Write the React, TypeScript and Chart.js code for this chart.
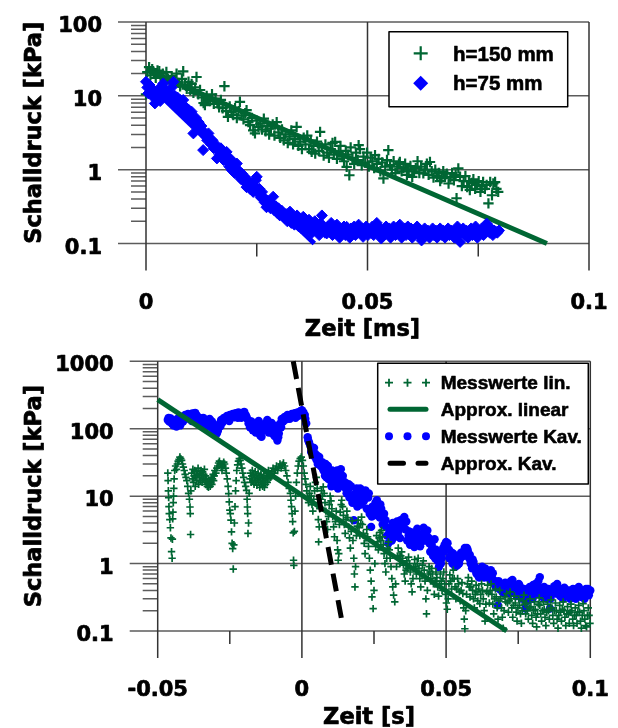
import React, { useEffect, useRef } from 'react';
import { Chart, registerables } from 'chart.js';
Chart.register(...registerables);

const GREEN = '#006633';
const BLUE = '#0000ff';

// ---------- top chart ----------
const topXTicks = [0, 0.05, 0.1];
const topXLabels = ['0', '0.05', '0.1'];
const topXMinor = [0.025, 0.075];
const topYTicks = [0.1, 1, 10, 100];
const topYLabels = ['0.1', '1', '10', '100'];
const topXTitle = 'Zeit [ms]';
const topYTitle = 'Schalldruck [kPa]';
const topLegend = ['h=150 mm', 'h=75 mm'];

const h150: [number, number][] = [
[0.0000,10.5],[0.0003,21],[0.0007,24.5],[0.0010,19],[0.0014,23],[0.0018,20.5],[0.0022,17.5],[0.0026,22],[0.0030,21.5],[0.0034,18],[0.0038,20],[0.0042,16.5],[0.0046,21],[0.0050,17],[0.0054,15.5],[0.0058,18.5],[0.0062,14.5],[0.0066,16],[0.0069,20],[0.0073,15],[0.0077,13.5],[0.0081,17],[0.0084,21.5],[0.0088,14],[0.0092,12.5],[0.0096,15.5],[0.0100,12],[0.0103,14.5],[0.0107,11],[0.0111,13],[0.0114,18],[0.0118,10.5],[0.0122,12],[0.0126,9.5],[0.0130,8],[0.0133,7.5],[0.0137,10],[0.0141,9],[0.0145,8.5],[0.0149,10.5],[0.0153,7.8],[0.0157,9.2],[0.0161,8],[0.0165,7],[0.0169,8.8],[0.0173,6.8],[0.0177,13.5],[0.0181,6.2],[0.0185,5.2],[0.0189,7.2],[0.0193,6],[0.0197,5.5],[0.0201,6.8],[0.0205,5],[0.0209,6.2],[0.0212,8.3],[0.0216,5.4],[0.0220,4.8],[0.0224,5.8],[0.0227,6.4],[0.0231,4.4],[0.0235,4],[0.0239,5],[0.0242,3.4],[0.0246,3.1],[0.0250,4.6],[0.0254,3.8],[0.0258,4.2],[0.0262,3.5],[0.0266,4.9],[0.0270,3.3],[0.0274,3.9],[0.0278,3],[0.0282,3.6],[0.0286,4.1],[0.0290,2.9],[0.0295,4.4],[0.0299,3.2],[0.0303,2.7],[0.0307,3.5],[0.0311,2.5],[0.0315,3],[0.0320,2.3],[0.0324,2.8],[0.0328,3.4],[0.0332,2.2],[0.0336,2.6],[0.0340,3.8],[0.0344,2.1],[0.0348,2.4],[0.0352,1.9],[0.0356,2.7],[0.0360,2.2],[0.0364,2.9],[0.0368,1.9],[0.0372,2.5],[0.0374,1.74],[0.0378,2.1],[0.0382,1.65],[0.0386,2.4],[0.0390,1.8],[0.0393,3.25],[0.0397,2],[0.0401,1.55],[0.0405,2.2],[0.0409,1.7],[0.0413,1.45],[0.0417,1.9],[0.0421,2.3],[0.0424,1.6],[0.0427,2.38],[0.0431,1.4],[0.0435,1.75],[0.0439,2.1],[0.0443,1.5],[0.0447,1.3],[0.0451,1.8],[0.0453,1.09],[0.0456,1.6],[0.0459,0.84],[0.0462,2],[0.0466,1.45],[0.0470,1.2],[0.0474,1.7],[0.0478,1.35],[0.0480,2.15],[0.0483,1.9],[0.0487,1.15],[0.0491,1.5],[0.0495,1.25],[0.0499,1.7],[0.0503,1.1],[0.0507,1.45],[0.0511,1.3],[0.0515,1.05],[0.0517,1.57],[0.0521,1.2],[0.0525,1.4],[0.0529,0.95],[0.0533,1.25],[0.0536,0.76],[0.0540,1.1],[0.0544,1.35],[0.0547,1.84],[0.0551,1.15],[0.0555,1.0],[0.0559,1.3],[0.0563,0.9],[0.0567,1.1],[0.0571,1.2],[0.0573,1.27],[0.0577,0.95],[0.0581,1.05],[0.0585,1.2],[0.0589,0.85],[0.0593,1.0],[0.0597,1.12],[0.0601,0.8],[0.0605,0.95],[0.0609,1.05],[0.0613,1.3],[0.0617,0.9],[0.0621,1.1],[0.0626,0.89],[0.0630,1.0],[0.0634,1.2],[0.0638,0.85],[0.0641,1.27],[0.0645,0.95],[0.0649,0.78],[0.0653,1.0],[0.0657,0.82],[0.0661,0.9],[0.0664,0.7],[0.0667,0.76],[0.0671,0.95],[0.0675,0.8],[0.0679,0.88],[0.0683,0.65],[0.0687,0.78],[0.0691,0.9],[0.0695,0.72],[0.0699,0.85],[0.0701,0.41],[0.0705,1.04],[0.0709,0.8],[0.0713,0.6],[0.0717,0.7],[0.0721,0.82],[0.0725,0.58],[0.0729,0.7],[0.0731,0.53],[0.0735,0.66],[0.0739,0.74],[0.0743,0.55],[0.0747,0.62],[0.0751,0.7],[0.0755,0.5],[0.0758,0.6],[0.0761,0.68],[0.0765,0.55],[0.0769,0.62],[0.0773,0.35],[0.0777,0.68],[0.0781,0.45],[0.0784,0.65],[0.0788,0.68],[0.0791,0.55],[0.0795,0.5]
];

const h75: [number, number][] = [
[0.0000,15.5],[0.0003,13],[0.0005,10.8],[0.0008,14],[0.0011,11.5],[0.0014,12.5],[0.0017,9.5],[0.0020,7.9],[0.0023,11],[0.0026,9],[0.0029,12],[0.0032,8.5],[0.0035,13.5],[0.0039,14.7],[0.0042,10.5],[0.0045,12],[0.0048,9.8],[0.0051,11],[0.0054,8.6],[0.0058,13],[0.0062,15.5],[0.0065,10],[0.0068,8.2],[0.0071,9.5],[0.0074,7.5],[0.0077,8.8],[0.0081,6.8],[0.0084,8.8],[0.0087,6.2],[0.0090,7],[0.0093,5.6],[0.0096,6.5],[0.0100,5.2],[0.0103,6.1],[0.0107,3.1],[0.0110,4.6],[0.0113,5],[0.0116,4],[0.0119,4.4],[0.0122,3.5],[0.0125,3.9],[0.0129,1.84],[0.0132,3.2],[0.0135,2.8],[0.0138,2.5],[0.0141,3.1],[0.0144,2.6],[0.0147,2.2],[0.0150,2.5],[0.0153,1.95],[0.0157,2.2],[0.0160,1.42],[0.0163,1.8],[0.0166,1.6],[0.0169,1.95],[0.0172,1.5],[0.0175,1.35],[0.0178,1.6],[0.0182,1.74],[0.0185,1.25],[0.0188,1.1],[0.0191,1.4],[0.0194,0.98],[0.0197,1.15],[0.0200,0.9],[0.0203,1.05],[0.0205,1.21],[0.0208,0.85],[0.0211,0.95],[0.0214,0.75],[0.0217,0.88],[0.0220,0.7],[0.0223,0.8],[0.0227,0.58],[0.0230,0.72],[0.0233,0.62],[0.0236,0.54],[0.0239,0.66],[0.0242,0.5],[0.0245,0.6],[0.0248,0.72],[0.0250,0.8],[0.0253,0.48],[0.0256,0.55],[0.0259,0.42],[0.0262,0.5],[0.0265,0.4],[0.0268,0.36],[0.0272,0.31],[0.0275,0.38],[0.0278,0.33],[0.0281,0.3],[0.0284,0.35],[0.0287,0.43],[0.0290,0.28],[0.0293,0.32],[0.0296,0.26],[0.0299,0.3],[0.0302,0.24],[0.0306,0.28],[0.0310,0.255],[0.0313,0.22],[0.0316,0.25],[0.0319,0.2],[0.0322,0.23],[0.0325,0.27],[0.0328,0.19],[0.0331,0.22],[0.0335,0.18],[0.0338,0.21],[0.0341,0.24],[0.0345,0.17],[0.0348,0.2],[0.0351,0.16],[0.0355,0.23],[0.0358,0.19],[0.0361,0.15],[0.0365,0.18],[0.0368,0.21],[0.0372,0.16],[0.0375,0.14],[0.0378,0.18],[0.0381,0.2],[0.0385,0.15],[0.0388,0.17],[0.0391,0.13],[0.0394,0.19],[0.0397,0.24],[0.0401,0.16],[0.0404,0.14],[0.0408,0.137],[0.0411,0.17],[0.0414,0.15],[0.0418,0.19],[0.0421,0.13],[0.0424,0.16],[0.0427,0.14],[0.0431,0.18],[0.0434,0.15],[0.0437,0.12],[0.0441,0.16],[0.0444,0.14],[0.0447,0.17],[0.0450,0.13],[0.0453,0.168],[0.0457,0.15],[0.0460,0.12],[0.0463,0.16],[0.0467,0.14],[0.0470,0.17],[0.0473,0.13],[0.0477,0.15],[0.0480,0.18],[0.0484,0.14],[0.0487,0.16],[0.0490,0.123],[0.0494,0.15],[0.0497,0.17],[0.0501,0.13],[0.0504,0.155],[0.0507,0.14],[0.0511,0.17],[0.0514,0.13],[0.0518,0.15],[0.0521,0.19],[0.0525,0.14],[0.0528,0.16],[0.0531,0.117],[0.0535,0.15],[0.0538,0.13],[0.0542,0.17],[0.0545,0.14],[0.0549,0.16],[0.0552,0.12],[0.0556,0.15],[0.0559,0.17],[0.0563,0.13],[0.0566,0.15],[0.0570,0.14],[0.0573,0.18],[0.0577,0.12],[0.0580,0.15],[0.0584,0.16],[0.0587,0.13],[0.0591,0.17],[0.0594,0.14],[0.0598,0.16],[0.0601,0.12],[0.0605,0.15],[0.0608,0.14],[0.0612,0.17],[0.0615,0.13],[0.0619,0.15],[0.0622,0.11],[0.0626,0.14],[0.0629,0.16],[0.0633,0.13],[0.0636,0.15],[0.0640,0.12],[0.0643,0.14],[0.0647,0.16],[0.0650,0.13],[0.0654,0.15],[0.0657,0.12],[0.0661,0.14],[0.0664,0.16],[0.0668,0.13],[0.0671,0.15],[0.0675,0.12],[0.0678,0.14],[0.0682,0.16],[0.0685,0.13],[0.0689,0.15],[0.0692,0.14],[0.0696,0.12],[0.0699,0.15],[0.0703,0.17],[0.0706,0.13],[0.0709,0.105],[0.0713,0.14],[0.0716,0.16],[0.0720,0.13],[0.0723,0.15],[0.0727,0.12],[0.0730,0.14],[0.0734,0.16],[0.0737,0.13],[0.0741,0.15],[0.0744,0.17],[0.0748,0.12],[0.0751,0.15],[0.0755,0.14],[0.0758,0.16],[0.0762,0.13],[0.0765,0.17],[0.0769,0.186],[0.0772,0.15],[0.0776,0.14],[0.0779,0.16],[0.0783,0.13],[0.0786,0.15],[0.0790,0.144],[0.0793,0.14],[0.0797,0.15]
];

const fit150: [number, number][] = [[0, 22.5], [0.0905, 0.1]];
const fit75: [number, number][] = [[0, 15.6], [0.038, 0.1]];

// ---------- bottom chart ----------
const botXTicks = [-0.05, 0, 0.05, 0.1];
const botXLabels = ['-0.05', '0', '0.05', '0.1'];
const botXMinor = [-0.025, 0.025, 0.075];
const botYTicks = [0.1, 1, 10, 100, 1000];
const botYLabels = ['0.1', '1', '10', '100', '1000'];
const botXTitle = 'Zeit [s]';
const botYTitle = 'Schalldruck [kPa]';
const botLegend = ['Messwerte lin.', 'Approx. linear', 'Messwerte Kav.', 'Approx. Kav.'];

const messLin: [number, number][] = [
[-0.0465,22],[-0.0464,17],[-0.0463,12],[-0.0462,9.5],[-0.0461,7],[-0.0460,5.5],[-0.0458,4.5],[-0.0456,3.4],[-0.0454,2.4],[-0.0452,1.5],[-0.0450,1.2],[-0.0449,2.3],[-0.0448,4.6],[-0.0447,5.8],[-0.0446,8],[-0.0445,10],[-0.0444,13],[-0.0443,18],[-0.0441,24],
[-0.0438,28],[-0.0435,25],[-0.0432,30],[-0.0429,33],[-0.0426,35],[-0.0423,38],[-0.0420,36],[-0.0417,34],[-0.0414,30],[-0.0411,27],[-0.0408,24],[-0.0405,21],[-0.0402,19],[-0.0399,17],
[-0.0396,14],[-0.0393,11],[-0.0390,9],[-0.0388,6.9],[-0.0387,5.5],[-0.0386,2.7],[-0.0385,12],
[-0.0382,22],[-0.0380,18],[-0.0378,25],[-0.0376,16],[-0.0374,20],[-0.0372,24],[-0.0370,14],[-0.0368,19],[-0.0366,23],[-0.0364,17],[-0.0362,21],[-0.0360,26],[-0.0358,15],[-0.0356,19],[-0.0354,22],[-0.0352,17],[-0.0350,24],[-0.0348,20],[-0.0346,16],[-0.0344,23],[-0.0342,18],[-0.0340,21],[-0.0338,25],[-0.0336,17],[-0.0334,20],[-0.0332,15],[-0.0330,18],[-0.0328,14],[-0.0326,16],[-0.0324,13.5],[-0.0322,15],[-0.0320,17],[-0.0318,14],[-0.0316,16],[-0.0314,19],[-0.0312,15],[-0.0310,18],[-0.0308,21],[-0.0306,17],[-0.0304,20],[-0.0302,24],
[-0.0298,22],[-0.0295,26],[-0.0292,28],[-0.0289,31],[-0.0286,33],[-0.0283,30],[-0.0280,27],[-0.0277,24],[-0.0274,28],[-0.0271,32],[-0.0268,30],[-0.0265,26],[-0.0262,22],[-0.0259,18],
[-0.0256,14],[-0.0254,10.9],[-0.0252,8.2],[-0.0250,6.2],[-0.0248,5.5],[-0.0246,4.4],[-0.0244,2.95],[-0.0242,2.0],[-0.0240,1.67],[-0.0238,0.83],[-0.0236,1.9],[-0.0234,4],[-0.0232,7],[-0.0230,12],[-0.0228,17],
[-0.0226,24],[-0.0223,29],[-0.0220,33],[-0.0217,36],[-0.0214,34],[-0.0211,30],[-0.0208,26],[-0.0205,22],[-0.0202,19],[-0.0199,16],
[-0.0195,14],[-0.0192,12.2],[-0.0190,9],[-0.0189,6.9],[-0.0188,5.5],[-0.0187,2.8],[-0.0185,4],[-0.0183,11],
[-0.0180,18],[-0.0178,22],[-0.0176,16],[-0.0174,20],[-0.0172,24],[-0.0170,17],[-0.0168,21],[-0.0166,15],[-0.0164,19],[-0.0162,23],[-0.0160,17],[-0.0158,20],[-0.0156,14.5],[-0.0154,18],[-0.0152,22],[-0.0150,16],[-0.0148,19],[-0.0146,13.5],[-0.0144,17],[-0.0142,21],[-0.0140,15],[-0.0138,18],[-0.0136,14],[-0.0134,16],[-0.0132,20],[-0.0130,13.5],[-0.0128,17],[-0.0126,15],[-0.0124,19],[-0.0122,22],[-0.0120,16],[-0.0118,20],[-0.0116,24],[-0.0114,18],[-0.0112,21],
[-0.0108,19],[-0.0104,23],[-0.0100,26],[-0.0096,22],[-0.0092,25],[-0.0088,28],[-0.0084,24],[-0.0080,27],[-0.0076,30],[-0.0072,26],[-0.0068,29],[-0.0064,31],[-0.0060,28],[-0.0056,24],[-0.0052,20],[-0.0048,16],[-0.0044,13],
[-0.0040,11],[-0.0038,8.7],[-0.0036,7],[-0.0034,5.5],[-0.0032,4.2],[-0.0030,2.85],[-0.0029,1.12],[-0.0028,0.94],[-0.0026,3],[-0.0024,6],[-0.0022,10],[-0.0019,16],[-0.0016,22],[-0.0013,28],[-0.0010,33],[-0.0006,36],[-0.0002,38],
[0.0002,34],[0.0005,28],[0.0008,22],[0.0011,18],[0.0014,15],[0.0017,12],[0.0020,9.5],[0.0023,8],[0.0026,11],[0.0029,14],[0.0032,10],[0.0035,7.5],[0.0038,6],[0.0041,9],[0.0044,12],[0.0047,16],[0.0050,19],[0.0053,13],[0.0056,8],[0.0057,4.5],[0.0058,2.1],[0.0060,3.5],[0.0062,6.5],[0.0065,9],[0.0068,12],[0.0071,10],[0.0074,13.7],[0.0077,11],[0.0080,8],[0.0083,6],[0.0086,4.2],[0.0089,3.2],[0.0092,5],[0.0095,7.5],[0.0098,10],[0.0101,8.5],[0.0104,6.5],[0.0107,5],[0.0110,3.5],[0.0113,2.5],[0.0116,4.2],[0.0119,6],[0.0122,2.2],[0.0124,1.6],[0.0126,1.12],[0.0128,1.4],[0.0130,3.8],[0.0133,5.8],[0.0136,7.5],[0.0138,8.7],[0.0141,7],[0.0144,5.2],[0.0147,3.8],[0.0150,2.8],[0.0153,4.5],[0.0156,6],[0.0159,4.8],[0.0162,3.5],[0.0165,2.4],[0.0168,1.7],[0.0171,3],[0.0174,4.3],[0.0177,2.2],[0.0180,1.2],[0.0182,0.7],[0.0184,0.45],[0.0186,0.9],[0.0189,2.6],[0.0192,3.6],[0.0195,4.4],[0.0198,3.4],[0.0201,2.6],[0.0204,3.9],[0.0207,4.9],[0.0210,3.8],[0.0213,2.8],[0.0216,2],[0.0219,1.4],[0.0222,2.4],[0.0225,3.2],[0.0228,2.5],[0.0231,1.8],[0.0234,1.2],[0.0237,0.8],[0.0240,0.55],[0.0243,0.32],[0.0247,0.215],[0.0250,0.4],[0.0253,1.0],[0.0256,1.8],[0.0259,2.6],[0.0262,2.1],[0.0265,1.6],[0.0268,2.4],[0.0271,2.9],[0.0274,2.2],[0.0276,3.1],[0.0279,2.5],[0.0282,1.9],[0.0285,1.4],[0.0288,1.0],[0.0291,0.75],[0.0294,1.2],[0.0297,1.7],[0.0300,2.1],[0.0303,1.6],[0.0306,1.2],[0.0309,0.9],[0.0312,0.6],[0.0315,0.45],[0.0318,0.34],[0.0322,0.27],[0.0325,0.5],[0.0328,0.9],[0.0331,1.3],[0.0334,1.7],[0.0337,1.3],[0.0340,1.0],[0.0343,1.3],[0.0346,1.49],[0.0349,1.2],[0.0352,0.95],[0.0355,0.7],[0.0358,0.55],[0.0361,0.8],[0.0364,1.1],[0.0367,0.85],[0.0370,1.25],[0.0373,1.0],[0.0376,0.75],[0.0379,0.5],[0.0382,0.38],[0.0385,0.6],[0.0388,0.9],[0.0391,1.15],[0.0394,0.9],[0.0397,0.7],[0.0400,1.0],[0.0403,1.2],[0.0406,0.85],[0.0409,0.6],[0.0412,0.45],[0.0415,0.7],[0.0418,0.95],[0.0421,1.1],[0.0424,0.8],[0.0427,0.55],[0.0430,0.3],[0.0432,0.18],[0.0435,0.4],[0.0438,0.7],[0.0441,0.9],[0.0444,0.75],[0.0447,0.6],[0.0450,0.85],[0.0453,0.7],[0.0456,0.5],[0.0459,0.35],[0.0462,0.55],[0.0465,0.75],[0.0468,0.62],[0.0471,0.45],[0.0474,0.33],[0.0477,0.5],[0.0480,0.7],[0.0483,0.55],[0.0486,0.4],[0.0489,0.6],[0.0492,0.75],[0.0495,0.5],[0.0498,0.35],[0.0501,0.26],[0.0504,0.21],[0.0507,0.3],[0.0510,0.5],[0.0513,0.68],[0.0516,0.55],[0.0519,0.42],[0.0522,0.6],[0.0525,0.8],[0.0528,0.6],[0.0531,0.45],[0.0534,0.3],[0.0537,0.42],[0.0540,0.6],[0.0543,0.5],[0.0546,0.38],[0.0549,0.28],[0.0552,0.4],[0.0555,0.52],[0.0558,0.36],[0.0561,0.22],[0.0563,0.15],[0.0565,0.108],[0.0568,0.2],[0.0571,0.35],[0.0574,0.5],[0.0577,0.62],[0.0580,0.45],[0.0583,0.32],[0.0586,0.45],[0.0589,0.55],[0.0592,0.4],[0.0595,0.3],[0.0598,0.22],[0.0601,0.35],[0.0604,0.48],[0.0607,0.38],[0.0610,0.28],[0.0613,0.42],[0.0617,0.255],[0.0620,0.35],[0.0623,0.5],[0.0626,0.4],[0.0629,0.3],[0.0632,0.2],[0.0635,0.14],[0.0638,0.25],[0.0641,0.38],[0.0644,0.48],[0.0647,0.36],[0.0650,0.26],[0.0653,0.4],[0.0656,0.5],[0.0659,0.35],[0.0662,0.25],[0.0665,0.18],[0.0668,0.3],[0.0671,0.42],[0.0674,0.32],[0.0677,0.22],[0.0680,0.15],[0.0683,0.28],[0.0686,0.4],[0.0689,0.3],[0.0692,0.22],[0.0695,0.16],[0.0698,0.11],[0.0701,0.2],[0.0704,0.32],[0.0707,0.27],[0.0710,0.36],[0.0713,0.26],[0.0716,0.19],[0.0719,0.28],[0.0722,0.38],[0.0725,0.3],[0.0728,0.22],[0.0731,0.16],[0.0734,0.24],[0.0737,0.33],[0.0740,0.26],[0.0743,0.19],[0.0746,0.14],[0.0749,0.22],[0.0752,0.3],[0.0755,0.24],[0.0758,0.18],[0.0761,0.13],[0.0764,0.2],[0.0767,0.28],[0.0770,0.34],[0.0773,0.25],[0.0776,0.18],[0.0779,0.26],[0.0782,0.2],[0.0785,0.15],[0.0788,0.22],[0.0791,0.3],[0.0794,0.23],[0.0797,0.17],[0.0800,0.13],[0.0803,0.2],[0.0806,0.27],[0.0809,0.21],[0.0812,0.16],[0.0814,0.115],[0.0817,0.18],[0.0820,0.25],[0.0823,0.31],[0.0825,0.24],[0.0828,0.18],[0.0831,0.14],[0.0834,0.2],[0.0837,0.27],[0.0840,0.21],[0.0843,0.16],[0.0846,0.12],[0.0849,0.19],[0.0852,0.25],[0.0855,0.2],[0.0858,0.15],[0.0861,0.22],[0.0864,0.29],[0.0867,0.22],[0.0870,0.17],[0.0873,0.13],[0.0876,0.2],[0.0879,0.26],[0.0882,0.2],[0.0885,0.15],[0.0888,0.11],[0.0891,0.17],[0.0894,0.24],[0.0897,0.19],[0.0900,0.14],[0.0903,0.21],[0.0906,0.27],[0.0909,0.2],[0.0912,0.16],[0.0915,0.12],[0.0918,0.18],[0.0921,0.23],[0.0924,0.18],[0.0927,0.13],[0.0930,0.19],[0.0933,0.25],[0.0936,0.2],[0.0939,0.15],[0.0942,0.12],[0.0945,0.17],[0.0948,0.22],[0.0951,0.17],[0.0954,0.13],[0.0957,0.19],[0.0960,0.24],[0.0963,0.19],[0.0966,0.14],[0.0969,0.11],[0.0972,0.17],[0.0975,0.255],[0.0978,0.2],[0.0981,0.15],[0.0984,0.12],[0.0987,0.115],[0.0990,0.17],[0.0993,0.22],[0.0996,0.17],[0.0999,0.13]
];

const messKav: [number, number][] = [
[-0.0465,135],[-0.0460,128],[-0.0455,142],[-0.0450,118],[-0.0445,112],[-0.0440,125],[-0.0435,108],[-0.0430,132],[-0.0425,145],[-0.0420,122],[-0.0415,150],[-0.0410,138],[-0.0405,160],[-0.0400,148],[-0.0395,165],[-0.0390,155],[-0.0385,140],[-0.0380,168],[-0.0375,150],[-0.0370,172],[-0.0365,158],[-0.0360,135],[-0.0355,145],[-0.0350,125],[-0.0345,138],[-0.0340,118],[-0.0335,130],[-0.0330,112],[-0.0325,125],[-0.0320,140],[-0.0315,105],[-0.0310,118],[-0.0305,95],[-0.0300,110],[-0.0295,85],[-0.0290,100],[-0.0285,120],[-0.0280,135],[-0.0275,125],[-0.0270,145],[-0.0265,138],[-0.0260,155],[-0.0255,142],[-0.0250,160],[-0.0245,150],[-0.0240,165],[-0.0235,148],[-0.0230,170],[-0.0225,158],[-0.0220,175],[-0.0215,162],[-0.0210,145],[-0.0205,168],[-0.0200,178],[-0.0195,160],[-0.0190,140],[-0.0185,120],[-0.0180,105],[-0.0175,128],[-0.0170,95],[-0.0165,112],[-0.0160,88],[-0.0155,102],[-0.0150,130],[-0.0145,80],[-0.0140,76],[-0.0135,95],[-0.0130,118],[-0.0125,105],[-0.0120,135],[-0.0115,88],[-0.0110,100],[-0.0105,122],[-0.0100,92],[-0.0095,78],[-0.0090,110],[-0.0085,67],[-0.0080,85],[-0.0075,120],[-0.0070,140],[-0.0065,128],[-0.0060,150],[-0.0055,138],[-0.0050,160],[-0.0045,145],[-0.0040,155],[-0.0035,165],[-0.0030,150],[-0.0025,170],[-0.0020,158],[-0.0015,175],[-0.0010,162],[-0.0005,182],[0.0000,188],
[-0.0462,145],[-0.0452,130],[-0.0442,120],[-0.0432,140],[-0.0422,112],[-0.0412,128],[-0.0402,140],[-0.0392,150],[-0.0382,130],[-0.0372,160],[-0.0362,150],[-0.0352,132],[-0.0342,145],[-0.0332,122],[-0.0322,110],[-0.0312,128],[-0.0302,100],[-0.0292,92],[-0.0282,110],[-0.0272,130],[-0.0262,140],[-0.0252,130],[-0.0242,150],[-0.0232,155],[-0.0222,145],[-0.0212,170],[-0.0202,160],[-0.0192,150],[-0.0182,130],[-0.0172,110],[-0.0162,100],[-0.0152,115],[-0.0142,90],[-0.0132,100],[-0.0122,120],[-0.0112,110],[-0.0102,85],[-0.0092,95],[-0.0082,75],[-0.0072,105],[-0.0062,135],[-0.0052,148],[-0.0042,140],[-0.0032,160],[-0.0022,145],[-0.0012,155],[-0.0002,170],
[0.0005,175],[0.0010,160],[0.0015,120],[0.0020,75],[0.0025,62],[0.0030,55],[0.0035,48],[0.0040,40],[0.0045,43],[0.0050,35],[0.0055,30],[0.0060,38],[0.0065,28],[0.0070,32],[0.0075,24],[0.0080,20],[0.0085,19],[0.0090,28],[0.0095,22],[0.0100,17],[0.0105,24],[0.0110,21],[0.0115,15],[0.0120,19],[0.0125,13],[0.0130,22],[0.0135,25],[0.0140,18],[0.0145,14],[0.0150,16],[0.0155,11],[0.0160,12.2],[0.0165,9.5],[0.0170,14],[0.0175,8],[0.0180,4.4],[0.0185,11],[0.0190,13],[0.0195,9],[0.0200,10.5],[0.0205,7.5],[0.0210,12],[0.0215,8.5],[0.0220,12.2],[0.0225,6.5],[0.0230,9.5],[0.0235,5.5],[0.0240,3.5],[0.0245,7],[0.0250,5.2],[0.0255,8],[0.0260,8.7],[0.0265,6],[0.0270,4.8],[0.0275,6.5],[0.0280,3.8],[0.0285,5.5],[0.0290,4.4],[0.0295,2.6],[0.0300,2.0],[0.0305,3.2],[0.0310,2.5],[0.0315,4.0],[0.0320,3.5],[0.0325,2.8],[0.0330,4.2],[0.0335,3.0],[0.0340,2.4],[0.0345,3.6],[0.0350,4.5],[0.0355,4.9],[0.0360,3.2],[0.0365,2.2],[0.0370,2.6],[0.0375,1.9],[0.0380,2.9],[0.0385,2.2],[0.0390,1.76],[0.0395,2.5],[0.0400,3.3],[0.0405,2.4],[0.0410,1.8],[0.0415,2.1],[0.0420,2.7],[0.0425,3.0],[0.0430,2.2],[0.0435,3.1],[0.0440,2.4],[0.0445,1.5],[0.0450,1.9],[0.0455,1.3],[0.0460,2.3],[0.0465,1.6],[0.0470,1.1],[0.0475,0.89],[0.0480,1.4],[0.0485,1.2],[0.0490,1.7],[0.0495,1.9],[0.0500,2.1],[0.0505,2.0],[0.0510,1.6],[0.0515,1.3],[0.0520,1.45],[0.0525,1.4],[0.0530,1.1],[0.0535,1.25],[0.0540,0.95],[0.0545,1.0],[0.0550,1.2],[0.0555,1.35],[0.0560,1.5],[0.0565,1.7],[0.0570,1.45],[0.0575,1.58],[0.0580,1.2],[0.0585,1.0],[0.0590,0.85],[0.0595,1.06],[0.0600,0.9],[0.0605,0.71],[0.0610,0.8],[0.0615,0.62],[0.0620,0.75],[0.0625,0.9],[0.0630,0.7],[0.0635,0.85],[0.0640,0.78],[0.0645,0.65],[0.0650,0.72],[0.0655,0.8],[0.0660,0.6],[0.0665,0.52],[0.0670,0.55],[0.0675,0.48],[0.0680,0.24],[0.0685,0.42],[0.0690,0.5],[0.0695,0.38],[0.0700,0.45],[0.0705,0.52],[0.0710,0.4],[0.0715,0.48],[0.0720,0.36],[0.0725,0.55],[0.0730,0.57],[0.0735,0.44],[0.0740,0.38],[0.0745,0.33],[0.0750,0.4],[0.0755,0.47],[0.0760,0.35],[0.0765,0.3],[0.0770,0.42],[0.0775,0.215],[0.0780,0.38],[0.0785,0.33],[0.0790,0.45],[0.0795,0.38],[0.0800,0.3],[0.0805,0.42],[0.0810,0.5],[0.0815,0.36],[0.0820,0.55],[0.0825,0.63],[0.0830,0.4],[0.0835,0.32],[0.0840,0.45],[0.0845,0.38],[0.0850,0.3],[0.0855,0.42],[0.0860,0.215],[0.0865,0.35],[0.0870,0.4],[0.0875,0.46],[0.0880,0.36],[0.0885,0.5],[0.0890,0.42],[0.0895,0.33],[0.0900,0.38],[0.0905,0.3],[0.0910,0.44],[0.0915,0.38],[0.0920,0.34],[0.0925,0.4],[0.0930,0.3],[0.0935,0.36],[0.0940,0.42],[0.0945,0.33],[0.0950,0.3],[0.0955,0.38],[0.0960,0.45],[0.0965,0.4],[0.0970,0.32],[0.0975,0.36],[0.0980,0.3],[0.0985,0.42],[0.0990,0.38],[0.0995,0.34],[0.1000,0.4],
[0.0012,140],[0.0022,67],[0.0032,45],[0.0042,52],[0.0052,40],[0.0062,30],[0.0072,26],[0.0082,30],[0.0092,18],[0.0102,14],[0.0112,18],[0.0122,24],[0.0132,16],[0.0142,20],[0.0152,13],[0.0162,15],[0.0172,10],[0.0182,8.5],[0.0192,7],[0.0202,13],[0.0212,9.5],[0.0222,10],[0.0232,11],[0.0242,5],[0.0252,6.5],[0.0262,5.5],[0.0272,7.5],[0.0282,5],[0.0292,3.5],[0.0302,2.8],[0.0312,2.2],[0.0322,2.5],[0.0332,3.4],[0.0342,4.4],[0.0352,3.8],[0.0362,4.2],[0.0372,3.0],[0.0382,2.4],[0.0392,2.0],[0.0402,2.8],[0.0412,2.5],[0.0422,3.4],[0.0432,2.6],[0.0442,2.0],[0.0452,1.7],[0.0462,1.2],[0.0472,1.3],[0.0482,1.0],[0.0492,1.5],[0.0502,1.7],[0.0512,1.2],[0.0522,1.0],[0.0532,0.9],[0.0542,1.15],[0.0552,1.45],[0.0562,1.3],[0.0572,1.7],[0.0582,1.35],[0.0592,1.15],[0.0602,0.8],[0.0612,0.65],[0.0622,0.85],[0.0632,0.62],[0.0642,0.7],[0.0652,0.58],[0.0662,0.72],[0.0672,0.45],[0.0682,0.55],[0.0692,0.45],[0.0702,0.36],[0.0712,0.5],[0.0722,0.42],[0.0732,0.48],[0.0742,0.35],[0.0752,0.5],[0.0762,0.4],[0.0772,0.36],[0.0782,0.28],[0.0792,0.35],[0.0802,0.48],[0.0812,0.4],[0.0822,0.45],[0.0832,0.36],[0.0842,0.4],[0.0852,0.35],[0.0862,0.3],[0.0872,0.38],[0.0882,0.42],[0.0892,0.36],[0.0902,0.42],[0.0912,0.34],[0.0922,0.38],[0.0932,0.35],[0.0942,0.38],[0.0952,0.42],[0.0962,0.36],[0.0972,0.4],[0.0982,0.35],[0.0992,0.42]
];

const approxLin: [number, number][] = [[-0.05, 270], [0.071, 0.1]];
const approxKav: [number, number][] = [[-0.003, 1000], [0.0138, 0.146]];

// ---------- helpers ----------
const TICK_FONT = 'bold 21px "DejaVu Sans"';
const TITLE_FONT = 'bold 22.5px "DejaVu Sans"';
const toXY = (arr: [number, number][]) => arr.map(([x, y]) => ({ x, y }));

function heavyText(ctx: CanvasRenderingContext2D, t: string, x: number, y: number, w = 0.7) {
  ctx.lineWidth = w;
  ctx.strokeStyle = '#000';
  ctx.lineJoin = 'round';
  ctx.strokeText(t, x, y);
  ctx.fillText(t, x, y);
}

function excelAxes(spec: any) {
  return {
    id: 'excelAxes',
    beforeDatasetsDraw(chart: any) {
      const { ctx, chartArea: a, scales } = chart;
      const xs = scales.x, ys = scales.y;
      ctx.save();
      ctx.lineWidth = 1.5;
      ctx.strokeStyle = '#5c5c5c';
      ctx.beginPath();
      for (const v of spec.yTicks) {
        const py = ys.getPixelForValue(v);
        ctx.moveTo(a.left - 28, py);
        ctx.lineTo(a.right, py);
      }
      const d0 = Math.round(Math.log10(spec.yMin));
      const d1 = Math.round(Math.log10(spec.yMax));
      for (let d = d0; d < d1; d++) {
        for (let k = 2; k <= 9; k++) {
          const py = ys.getPixelForValue(k * Math.pow(10, d));
          ctx.moveTo(a.left - 15, py);
          ctx.lineTo(a.left, py);
        }
      }
      ctx.stroke();
      ctx.strokeStyle = '#333';
      ctx.beginPath();
      for (const v of spec.xTicks) {
        const px = xs.getPixelForValue(v);
        ctx.moveTo(px, a.top);
        ctx.lineTo(px, a.bottom + 27);
      }
      for (const v of spec.xMinor) {
        const px = xs.getPixelForValue(v);
        ctx.moveTo(px, a.bottom);
        ctx.lineTo(px, a.bottom + 13);
      }
      ctx.stroke();
      ctx.restore();
    },
    afterDraw(chart: any) {
      const { ctx, chartArea: a, scales } = chart;
      const xs = scales.x, ys = scales.y;
      ctx.save();
      ctx.fillStyle = '#000';
      ctx.font = TICK_FONT;
      ctx.textBaseline = 'alphabetic';
      ctx.textAlign = 'right';
      spec.yTicks.forEach((v: number, i: number) => {
        heavyText(ctx, spec.yLabels[i], a.left - 44, ys.getPixelForValue(v) + 10);
      });
      ctx.textAlign = 'center';
      spec.xTicks.forEach((v: number, i: number) => {
        heavyText(ctx, spec.xLabels[i], xs.getPixelForValue(v), a.bottom + 65);
      });
      ctx.font = TITLE_FONT;
      heavyText(ctx, spec.xTitle, (a.left + a.right) / 2 - 5, a.bottom + 92.5);
      ctx.save();
      ctx.translate(40.5, (a.top + a.bottom) / 2);
      ctx.rotate(-Math.PI / 2);
      heavyText(ctx, spec.yTitle, 0, 0);
      ctx.restore();
      spec.drawLegend(ctx);
      ctx.restore();
    },
  };
}

function drawTopLegend(ctx: CanvasRenderingContext2D) {
  ctx.save();
  ctx.fillStyle = '#fff';
  ctx.fillRect(389, 31.7, 178.7, 75);
  ctx.strokeStyle = '#000';
  ctx.lineWidth = 1.5;
  ctx.strokeRect(389, 31.7, 178.7, 75);
  ctx.strokeStyle = GREEN;
  ctx.lineWidth = 2.2;
  ctx.beginPath();
  ctx.moveTo(420.7 - 7, 53.3); ctx.lineTo(420.7 + 7, 53.3);
  ctx.moveTo(420.7, 53.3 - 7); ctx.lineTo(420.7, 53.3 + 7);
  ctx.stroke();
  ctx.fillStyle = BLUE;
  ctx.beginPath();
  ctx.moveTo(420.7, 83.3 - 7.5); ctx.lineTo(420.7 + 7.5, 83.3);
  ctx.lineTo(420.7, 83.3 + 7.5); ctx.lineTo(420.7 - 7.5, 83.3);
  ctx.closePath();
  ctx.fill();
  ctx.fillStyle = '#000';
  ctx.font = 'bold 20.5px "Liberation Sans"';
  ctx.textAlign = 'left';
  ctx.textBaseline = 'alphabetic';
  heavyText(ctx, topLegend[0], 453, 60.7, 0.6);
  heavyText(ctx, topLegend[1], 453, 89.5, 0.6);
  ctx.restore();
}

function drawBotLegend(ctx: CanvasRenderingContext2D) {
  ctx.save();
  ctx.fillStyle = '#fff';
  ctx.fillRect(377.7, 23.3, 210.6, 120.7);
  ctx.strokeStyle = '#000';
  ctx.lineWidth = 1.5;
  ctx.strokeRect(377.7, 23.3, 210.6, 120.7);
  const cy = [42.7, 69.3, 96.3, 123.3];
  const mx = [389, 407.5, 426];
  ctx.strokeStyle = GREEN;
  ctx.lineWidth = 1.8;
  ctx.beginPath();
  for (const x of mx) {
    ctx.moveTo(x - 4, cy[0]); ctx.lineTo(x + 4, cy[0]);
    ctx.moveTo(x, cy[0] - 4); ctx.lineTo(x, cy[0] + 4);
  }
  ctx.stroke();
  ctx.lineWidth = 5;
  ctx.lineCap = 'round';
  ctx.beginPath();
  ctx.moveTo(390, cy[1]); ctx.lineTo(426, cy[1]);
  ctx.stroke();
  ctx.fillStyle = BLUE;
  for (const x of mx) {
    ctx.beginPath();
    ctx.arc(x, cy[2], 4, 0, Math.PI * 2);
    ctx.fill();
  }
  ctx.strokeStyle = '#000';
  ctx.beginPath();
  ctx.moveTo(390, cy[3]); ctx.lineTo(403.5, cy[3]);
  ctx.moveTo(418, cy[3]); ctx.lineTo(426, cy[3]);
  ctx.stroke();
  ctx.lineCap = 'butt';
  ctx.fillStyle = '#000';
  ctx.font = 'bold 19px "Liberation Sans"';
  ctx.textAlign = 'left';
  ctx.textBaseline = 'alphabetic';
  botLegend.forEach((t, i) => heavyText(ctx, t, 440.7, cy[i] + 6.7, 0.6));
  ctx.restore();
}

function makeConfig(spec: any, datasets: any[]) {
  return {
    type: 'scatter',
    data: { datasets },
    options: {
      responsive: false,
      animation: false,
      devicePixelRatio: 1,
      events: [],
      layout: { padding: { top: spec.padTop, right: spec.padRight, left: 0, bottom: 0 } },
      plugins: { legend: { display: false }, tooltip: { enabled: false } },
      scales: {
        x: {
          type: 'linear', min: spec.xMin, max: spec.xMax,
          grid: { display: false, drawTicks: false }, border: { display: false },
          ticks: { display: false },
          afterFit: (s: any) => { s.height = spec.xAxisH; },
        },
        y: {
          type: 'logarithmic', min: spec.yMin, max: spec.yMax,
          grid: { display: false, drawTicks: false }, border: { display: false },
          ticks: { display: false },
          afterFit: (s: any) => { s.width = spec.yAxisW; },
        },
      },
    },
    plugins: [excelAxes(spec)],
  };
}

const topSpec = {
  xMin: 0, xMax: 0.1, yMin: 0.1, yMax: 100,
  xTicks: topXTicks, xLabels: topXLabels, xMinor: topXMinor,
  yTicks: topYTicks, yLabels: topYLabels,
  xTitle: topXTitle, yTitle: topYTitle,
  padTop: 22, padRight: 29, yAxisW: 146, xAxisH: 96.5,
  drawLegend: drawTopLegend,
};

const botSpec = {
  xMin: -0.05, xMax: 0.1, yMin: 0.1, yMax: 1000,
  xTicks: botXTicks, xLabels: botXLabels, xMinor: botXMinor,
  yTicks: botYTicks, yLabels: botYLabels,
  xTitle: botXTitle, yTitle: botYTitle,
  padTop: 21.3, padRight: 27.7, yAxisW: 157.7, xAxisH: 97,
  drawLegend: drawBotLegend,
};

function ChartCanvas({ spec, datasets, top, height }: any) {
  const ref = useRef<HTMLCanvasElement | null>(null);
  useEffect(() => {
    if (!ref.current) return;
    const chart = new Chart(ref.current, makeConfig(spec, datasets) as any);
    return () => chart.destroy();
  }, []);
  return (
    <canvas
      ref={ref}
      width={618}
      height={height}
      style={{ position: 'absolute', left: 0, top, width: 618, height, display: 'block' }}
    />
  );
}

export default function App() {
  const topDatasets = [
    { label: topLegend[0], data: toXY(h150), pointStyle: 'cross', pointRadius: 5.2, borderColor: GREEN, borderWidth: 2.2, backgroundColor: GREEN, order: 4, clip: false },
    { label: 'fit150', data: toXY(fit150), showLine: true, pointRadius: 0, borderColor: GREEN, borderWidth: 5, order: 3, clip: false },
    { label: topLegend[1], data: toXY(h75), pointStyle: 'rectRot', pointRadius: 5.5, borderColor: BLUE, backgroundColor: BLUE, borderWidth: 1, order: 2, clip: false },
    { label: 'fit75', data: toXY(fit75), showLine: true, pointRadius: 0, borderColor: BLUE, borderWidth: 5, order: 1, clip: false },
  ];
  const botDatasets = [
    { label: botLegend[2], data: toXY(messKav), pointStyle: 'circle', pointRadius: 4.2, borderColor: BLUE, backgroundColor: BLUE, borderWidth: 0, order: 4, clip: false },
    { label: botLegend[0], data: toXY(messLin), pointStyle: 'cross', pointRadius: 3.7, borderColor: GREEN, borderWidth: 1.7, order: 3, clip: false },
    { label: botLegend[1], data: toXY(approxLin), showLine: true, pointRadius: 0, borderColor: GREEN, borderWidth: 5, order: 2, clip: false },
    { label: botLegend[3], data: toXY(approxKav), showLine: true, pointRadius: 0, borderColor: '#000', borderWidth: 5, borderDash: [18, 9], order: 1, clip: false },
  ];
  return (
    <div style={{ position: 'absolute', left: 0, top: 0, width: 618, height: 728, background: '#fff' }}>
      <ChartCanvas spec={topSpec} datasets={topDatasets} top={0} height={340} />
      <ChartCanvas spec={botSpec} datasets={botDatasets} top={340} height={388} />
    </div>
  );
}
